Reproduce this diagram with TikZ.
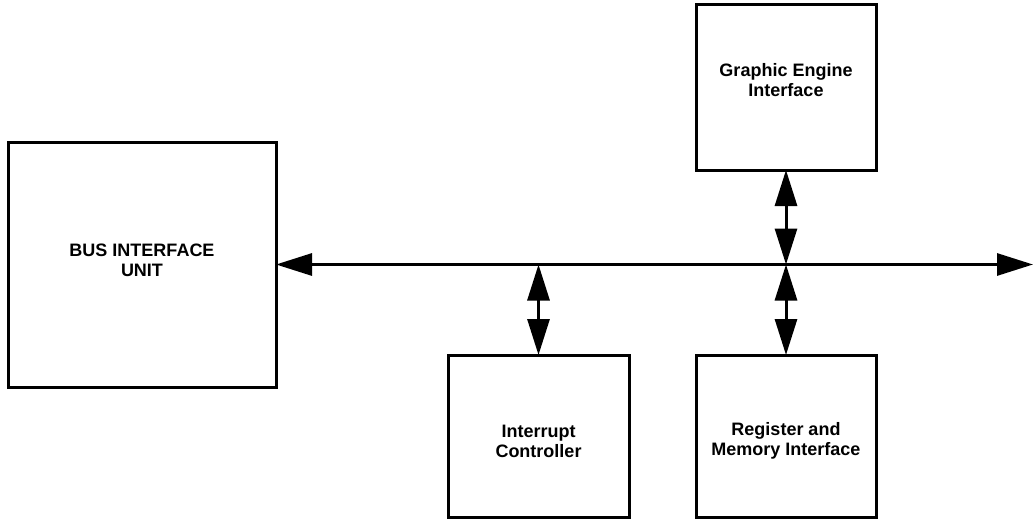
\documentclass[tikz,border=0pt]{standalone}
\usepackage{fontspec}
\setmainfont{Liberation Sans}
\usetikzlibrary{arrows.meta}
\begin{document}
\begin{tikzpicture}[x=1pt,y=-1pt,
  blk/.style={draw, line width=3pt, rectangle, inner sep=0pt, outer sep=0pt},
  lbl/.style={font=\bfseries\fontsize{18}{20}\selectfont, align=center, inner sep=0pt},
  conn/.style={line width=3pt, {Triangle[length=36pt,width=22pt]}-{Triangle[length=36pt,width=22pt]}}]
\useasboundingbox (0,0) rectangle (1034,519);
% blocks
\node[blk, minimum width=268pt, minimum height=245pt] (biu) at (142,264.5) {};
\node[blk, minimum width=180pt, minimum height=165pt] (gei) at (786,87.5) {};
\node[blk, minimum width=181pt, minimum height=162pt] (ic) at (538.5,436) {};
\node[blk, minimum width=180pt, minimum height=162pt] (rmi) at (786,436) {};
% labels
\node[lbl] (biut) at (142,260.5) {BUS INTERFACE\\UNIT};
\node[lbl] (geit) at (786,80) {Graphic Engine\\Interface};
\node[lbl] (ict) at (538.5,441) {Interrupt\\Controller};
\node[lbl] (rmit) at (786,440.5) {Register and\\Memory Interface};
% bus
\coordinate (busR) at (1033,264.5);
\coordinate (jic) at (538.5,264.5);
\coordinate (jrm) at (786,264.5);
\draw[conn] (biu.east) -- (busR);
\draw[conn] (gei.south) -- (jrm);
\draw[conn] (jrm) -- (rmi.north);
\draw[conn] (jic) -- (ic.north);
\end{tikzpicture}
\end{document}
